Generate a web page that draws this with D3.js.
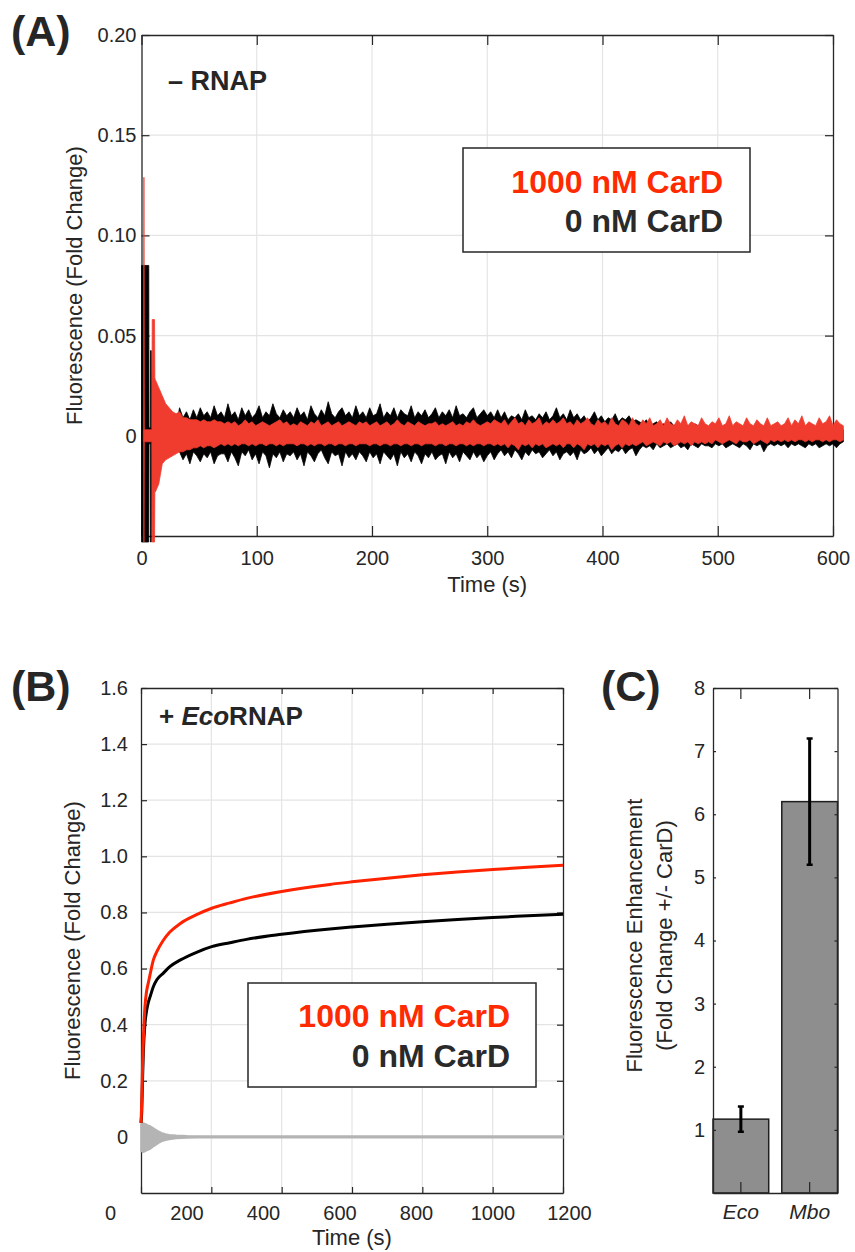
<!DOCTYPE html>
<html>
<head>
<meta charset="utf-8">
<script src="https://cdn.jsdelivr.net/npm/d3@7"></script>
<style>
  body { margin: 0; background: #fff; }
  text { font-family: "Liberation Sans", Arial, Helvetica, sans-serif; }
</style>
</head>
<body>
<svg id="fig" width="855" height="1252"></svg>
<script>
// ---------- panel A (- RNAP): noisy traces as envelopes, in units of 0.001 fold change
var tA = [
  12,15,18,21,24,27,30,33,36,39,42,45,48,51,54,57,60,63,66,69,
  72,75,78,81,84,87,90,93,96,99,102,105,108,111,114,117,120,123,126,129,
  132,135,138,141,144,147,150,153,156,159,162,165,168,171,174,177,180,183,186,189,
  192,195,198,201,204,207,210,213,216,219,222,225,228,231,234,237,240,243,246,249,
  252,255,258,261,264,267,270,273,276,279,282,285,288,291,294,297,300,303,306,309,
  312,315,318,321,324,327,330,333,336,339,342,345,348,351,354,357,360,363,366,369,
  372,375,378,381,384,387,390,393,396,399,402,405,408,411,414,417,420,423,426,429,
  432,435,438,441,444,447,450,453,456,459,462,465,468,471,474,477,480,483,486,489,
  492,495,498,501,504,507,510,513,516,519,522,525,528,531,534,537,540,543,546,549,
  552,555,558,561,564,567,570,573,576,579,582,585,588,591,594,597,600,603,606,609
];
var redUpA = [
  28,24,20,16,14,12,11,12,9,9,8,8,8,7,8,7,7,8,7,7,
  6,7,6,7,5,6,8,6,7,5,6,7,6,5,6,7,8,6,7,5,
  6,5,7,6,5,7,6,8,5,6,7,5,6,7,5,6,7,6,5,7,
  6,7,5,6,7,5,6,7,5,6,8,6,5,7,6,5,7,6,5,6,
  6,7,5,6,5,6,7,5,6,5,7,6,8,6,5,6,7,6,8,7,
  6,8,5,7,9,6,7,5,8,6,7,9,5,7,6,8,6,7,9,6,
  7,5,8,6,7,9,6,5,8,6,7,5,9,6,5,8,7,5,9,6,
  5,8,6,9,5,6,8,5,9,6,5,8,6,10,5,7,6,5,9,6,
  5,7,6,9,5,6,10,5,7,6,5,9,6,5,8,6,5,9,5,6,
  7,5,6,9,5,8,6,10,5,7,6,5,9,6,7,10,5,8,6,5
];
var redLoA = [
  -28,-24,-14,-12,-11,-10,-9,-8,-8,-7,-7,-6,-6,-5,-6,-5,-5,-6,-5,-4,
  -5,-4,-5,-4,-5,-4,-4,-5,-4,-5,-4,-4,-5,-4,-4,-5,-4,-5,-4,-4,
  -4,-5,-4,-4,-5,-4,-5,-4,-4,-5,-4,-4,-5,-4,-4,-5,-4,-4,-5,-4,
  -4,-4,-5,-4,-4,-5,-4,-4,-5,-4,-4,-5,-4,-4,-5,-4,-4,-5,-4,-4,
  -4,-5,-4,-4,-5,-4,-4,-5,-4,-4,-5,-4,-5,-4,-4,-5,-4,-4,-5,-4,
  -5,-4,-6,-4,-5,-7,-4,-5,-4,-6,-4,-5,-4,-6,-5,-4,-5,-4,-6,-4,
  -4,-6,-4,-5,-7,-4,-5,-4,-6,-4,-5,-4,-7,-5,-4,-6,-4,-5,-4,-5,
  -4,-3,-5,-4,-3,-4,-5,-3,-4,-3,-5,-4,-3,-4,-3,-5,-3,-4,-3,-4,
  -3,-4,-2,-3,-4,-3,-2,-3,-4,-2,-3,-3,-2,-4,-3,-2,-3,-4,-2,-3,
  -2,-3,-2,-3,-2,-3,-2,-2,-3,-2,-3,-2,-2,-3,-2,-3,-2,-2,-3,-2
];
var blackUpA = [
  4,4,4,4,4,4,4,14,9,12,8,13,9,14,10,12,9,15,10,12,
  9,16,10,12,8,14,10,13,9,11,15,9,12,10,16,11,9,13,10,12,
  9,14,10,12,8,15,11,9,13,10,17,11,9,12,14,10,12,9,15,10,
  12,9,14,10,11,16,9,12,10,14,9,13,11,10,15,9,12,10,13,9,
  11,14,9,12,10,13,9,15,10,11,9,12,14,9,11,13,10,12,9,13,
  9,12,8,10,9,11,8,13,9,10,8,11,9,12,8,10,14,9,11,8,
  13,9,11,8,10,7,9,12,8,10,7,9,8,11,7,9,8,10,7,8,
  7,6,8,5,6,7,5,6,5,7,5,6,5,6,5,4,6,5,4,5,
  3,2,4,3,2,3,2,4,2,3,2,3,2,4,2,2,3,2,2,3,
  2,3,2,3,2,2,3,2,3,2,2,3,2,2,3,2,3,2,2,3
];
var blackLoA = [
  -4,-4,-4,-4,-4,-4,-4,-8,-12,-9,-14,-8,-10,-13,-9,-11,-8,-14,-10,-9,
  -9,-13,-8,-11,-15,-8,-10,-7,-12,-9,-14,-8,-10,-16,-9,-11,-8,-13,-9,-10,
  -8,-12,-9,-15,-8,-10,-13,-9,-7,-11,-14,-8,-10,-9,-15,-8,-11,-9,-12,-8,
  -10,-13,-8,-11,-9,-14,-8,-10,-12,-9,-15,-8,-11,-9,-13,-8,-10,-14,-9,-11,
  -8,-12,-10,-9,-14,-8,-11,-9,-13,-8,-10,-12,-8,-11,-9,-13,-10,-8,-12,-9,
  -7,-10,-8,-11,-7,-9,-12,-8,-10,-7,-9,-8,-11,-9,-7,-10,-8,-12,-9,-8,
  -10,-8,-12,-7,-9,-8,-6,-9,-7,-10,-8,-6,-9,-7,-8,-6,-9,-7,-6,-10,
  -7,-5,-6,-5,-7,-4,-6,-5,-4,-6,-5,-4,-6,-5,-7,-4,-5,-6,-4,-5,
  -5,-6,-4,-5,-4,-6,-5,-4,-5,-6,-4,-5,-7,-4,-5,-4,-8,-5,-4,-5,
  -4,-5,-4,-6,-4,-5,-4,-5,-6,-4,-5,-4,-6,-5,-4,-5,-4,-6,-4,-3
];
// first seconds of panel A (fold change)
var blackEarlyT  = [0, 6.3, 6.5, 7.7, 7.8, 8.5, 8.7];
var blackEarlyUp = [0.085, 0.085, 0.004, 0.004, 0.0425, 0.0425, 0.004];
var blackEarlyLo = [-0.053, -0.053, -0.004, -0.004, -0.053, -0.053, -0.004];
var redEarlyT  = [1.6, 1.9, 2.1, 2.4, 9.0, 9.3, 11.3, 11.6];
var redEarlyUp = [0.003, 0.003, 0.129, 0.003, 0.003, 0.058, 0.058, 0.029];
var redEarlyLo = [-0.003, -0.003, -0.053, -0.003, -0.003, -0.053, -0.053, -0.027];

var xTicksA = [0, 100, 200, 300, 400, 500, 600];
var yTicksA = [0, 0.05, 0.10, 0.15, 0.20];
var yTickLabelsA = ["0", "0.05", "0.10", "0.15", "0.20"];

// ---------- panel B (+ EcoRNAP)
var tB     = [0, 2, 4.7, 6.6, 11, 16, 21, 26, 35, 45, 63, 82, 111, 158, 201, 253, 300, 400, 537, 600, 700, 800, 900, 1000, 1100, 1200];
var redB   = [0.05, 0.12, 0.27, 0.34, 0.46, 0.52, 0.55, 0.58, 0.63, 0.66, 0.70, 0.73, 0.76, 0.792, 0.815, 0.834, 0.85, 0.875, 0.90, 0.909, 0.922, 0.934, 0.944, 0.953, 0.961, 0.968];
var blackB = [0.05, 0.085, 0.22, 0.30, 0.40, 0.45, 0.48, 0.50, 0.535, 0.56, 0.583, 0.607, 0.63, 0.658, 0.678, 0.692, 0.704, 0.722, 0.741, 0.748, 0.758, 0.767, 0.775, 0.782, 0.788, 0.794];
var grayT  = [0, 5, 10, 15, 20, 25, 30, 35, 40, 45, 50, 60, 70, 80, 100, 130, 160, 1200];
var grayUp = [0.045, 0.05, 0.048, 0.045, 0.042, 0.04, 0.036, 0.032, 0.028, 0.024, 0.02, 0.014, 0.01, 0.008, 0.006, 0.004, 0.003, 0.003];
var grayLo = [-0.05, -0.055, -0.053, -0.05, -0.047, -0.044, -0.04, -0.035, -0.031, -0.027, -0.022, -0.016, -0.012, -0.009, -0.006, -0.004, -0.003, -0.003];

var xTicksB = [0, 200, 400, 600, 800, 1000, 1200];
var yTicksB = [0, 0.2, 0.4, 0.6, 0.8, 1.0, 1.2, 1.4, 1.6];
var yTickLabelsB = ["0", "0.2", "0.4", "0.6", "0.8", "1.0", "1.2", "1.4", "1.6"];

// ---------- panel C
var species = ["Eco", "Mbo"];
var enhancement = [1.17, 6.2];
var enhancementErr = [0.2, 1.0];
var yTicksC = [1, 2, 3, 4, 5, 6, 7, 8];

var legendLabels = ["1000 nM CarD", "0 nM CarD"];

var RED_A = "#f03c2f", RED = "#ff2200", AX = "#262626", GRID = "#e4e4e4";
var milli = 0.001;

var svg = d3.select("#fig");

function styleAxis(g, size) {
  g.attr("color", AX);
  g.selectAll("text").attr("font-family", "'Liberation Sans', Arial, sans-serif")
    .attr("font-size", size).attr("fill", AX);
  g.selectAll("line").attr("stroke-width", 1.2);
  g.select(".domain").attr("stroke-width", 1.3);
}

// box, inward ticks on four sides, grid
function drawAxes(x, y, o) {
  var g = svg.append("g");
  var x0 = x.range()[0], x1 = x.range()[1], yb = y.range()[0], yt = y.range()[1];
  if (o.grid) {
    g.append("g").selectAll("line").data(o.xGrid).join("line")
      .attr("x1", d => x(d)).attr("x2", d => x(d)).attr("y1", yt).attr("y2", yb)
      .attr("stroke", GRID).attr("stroke-width", 1.2);
    g.append("g").selectAll("line").data(o.yGrid).join("line")
      .attr("y1", d => y(d)).attr("y2", d => y(d)).attr("x1", x0).attr("x2", x1)
      .attr("stroke", GRID).attr("stroke-width", 1.2);
  }
  var bottom = g.append("g").attr("transform", "translate(0," + yb + ")")
    .call(d3.axisBottom(x).tickValues(o.xTicks).tickSizeInner(-o.xLen).tickSizeOuter(0)
      .tickPadding(o.xPad).tickFormat(o.xFormat));
  styleAxis(bottom, 20);
  var top = g.append("g").attr("transform", "translate(0," + yt + ")")
    .call(d3.axisTop(x).tickValues(o.xTicks).tickSizeInner(-o.xLen).tickSizeOuter(0).tickFormat(""));
  styleAxis(top, 20);
  var left = g.append("g").attr("transform", "translate(" + x0 + ",0)")
    .call(d3.axisLeft(y).tickValues(o.yTicks).tickSizeInner(-o.yLen).tickSizeOuter(0)
      .tickPadding(o.yPad).tickFormat(o.yFormat));
  styleAxis(left, 20);
  var right = g.append("g").attr("transform", "translate(" + x1 + ",0)")
    .call(d3.axisRight(y).tickValues(o.yTicks).tickSizeInner(-o.yLen).tickSizeOuter(0).tickFormat(""));
  styleAxis(right, 20);
  return g;
}

function yLabel(lines, cx, cy) {
  var t = svg.append("text").attr("transform", "translate(" + cx + "," + cy + ") rotate(-90)")
    .attr("text-anchor", "middle").attr("font-size", 22).attr("fill", AX);
  lines.forEach(function (s, i) {
    t.append("tspan").attr("x", 0).attr("dy", i === 0 ? 0 : 30).text(s);
  });
}

function legend(x0, y0, w, h, right, base1, base2) {
  svg.append("rect").attr("x", x0).attr("y", y0).attr("width", w).attr("height", h)
    .attr("fill", "#fff").attr("stroke", AX).attr("stroke-width", 1.5);
  svg.append("text").attr("x", right).attr("y", base1).attr("text-anchor", "end")
    .attr("font-size", 32).attr("font-weight", "bold").attr("fill", "#ff2a00").text(legendLabels[0]);
  svg.append("text").attr("x", right).attr("y", base2).attr("text-anchor", "end")
    .attr("font-size", 32).attr("font-weight", "bold").attr("fill", "#2a2a2a").text(legendLabels[1]);
}

// ================= Panel A =================
var xA = d3.scaleLinear().domain([0, 600]).range([141.5, 833]);
var yA = d3.scaleLinear().domain([-0.05, 0.2]).range([536, 35]);

drawAxes(xA, yA, {
  grid: true, xGrid: [100, 200, 300, 400, 500], yGrid: [0, 0.05, 0.10, 0.15],
  xTicks: xTicksA, yTicks: yTicksA, xLen: 10, yLen: 8, xPad: 15, yPad: 5,
  xFormat: d3.format("d"), yFormat: function (d, i) { return yTickLabelsA[i]; }
});

var blackA = blackEarlyT.map(function (t, i) { return { t: t, up: blackEarlyUp[i], lo: blackEarlyLo[i] }; })
  .concat(tA.map(function (t, i) { return { t: t, up: blackUpA[i] * milli, lo: blackLoA[i] * milli }; }));
var redA = redEarlyT.map(function (t, i) { return { t: t, up: redEarlyUp[i], lo: redEarlyLo[i] }; })
  .concat(tA.map(function (t, i) { return { t: t, up: redUpA[i] * milli, lo: redLoA[i] * milli }; }));

var bandA = d3.area().x(d => xA(d.t)).y0(d => yA(d.lo)).y1(d => yA(d.up));
svg.append("path").datum(blackA).attr("d", bandA)
  .attr("fill", "#000").attr("stroke", "#000").attr("stroke-width", 0.8);
svg.append("path").datum(redA).attr("d", bandA)
  .attr("fill", RED_A).attr("stroke", RED_A).attr("stroke-width", 0.8);

yLabel(["Fluorescence (Fold Change)"], 82, (yA.range()[0] + yA.range()[1]) / 2);
svg.append("text").attr("x", (xA.range()[0] + xA.range()[1]) / 2).attr("y", 592)
  .attr("text-anchor", "middle").attr("font-size", 22).attr("fill", AX).text("Time (s)");
svg.append("text").attr("x", 168).attr("y", 90).attr("font-size", 27).attr("font-weight", "bold")
  .attr("fill", AX).text("\u2013 RNAP");
legend(463, 148, 287, 104, 723, 193, 232);
svg.append("text").attr("x", 11).attr("y", 46).attr("font-size", 43).attr("font-weight", "bold")
  .attr("fill", AX).text("(A)");

// ================= Panel B =================
var xB = d3.scaleLinear().domain([0, 1200]).range([141, 563]);
var yB = d3.scaleLinear().domain([-0.2, 1.6]).range([1193, 688]);
// tick labels in the figure sit on their own (wider) spacing
var xLabB = d3.scaleLinear().domain([0, 1200]).range([110, 569]);

drawAxes(xB, yB, {
  grid: true, xGrid: [200, 400, 600, 800, 1000], yGrid: [0, 0.2, 0.4, 0.6, 0.8, 1.0, 1.2, 1.4],
  xTicks: xTicksB, yTicks: yTicksB, xLen: 6, yLen: 6, xPad: 13, yPad: 13,
  xFormat: function () { return ""; }, yFormat: function (d, i) { return yTickLabelsB[i]; }
});
var labB = svg.append("g").attr("transform", "translate(0," + yB.range()[0] + ")")
  .call(d3.axisBottom(xLabB).tickValues(xTicksB).tickSize(0).tickPadding(13).tickFormat(d3.format("d")));
labB.select(".domain").remove();
styleAxis(labB, 20);

var grayData = grayT.map(function (t, i) { return { t: t, up: grayUp[i], lo: grayLo[i] }; });
svg.append("path").datum(grayData)
  .attr("d", d3.area().x(d => xB(d.t)).y0(d => yB(d.lo)).y1(d => yB(d.up)))
  .attr("fill", "#b4b4b4").attr("stroke", "#b4b4b4").attr("stroke-width", 1.5);

var lineB = d3.line().x(d => xB(d[0])).y(d => yB(d[1])).curve(d3.curveMonotoneX);
svg.append("path").datum(tB.map((t, i) => [t, blackB[i]])).attr("d", lineB)
  .attr("fill", "none").attr("stroke", "#000").attr("stroke-width", 3);
svg.append("path").datum(tB.map((t, i) => [t, redB[i]])).attr("d", lineB)
  .attr("fill", "none").attr("stroke", RED).attr("stroke-width", 3);

yLabel(["Fluorescence (Fold Change)"], 80, (yB.range()[0] + yB.range()[1]) / 2);
svg.append("text").attr("x", (xB.range()[0] + xB.range()[1]) / 2).attr("y", 1245)
  .attr("text-anchor", "middle").attr("font-size", 22).attr("fill", AX).text("Time (s)");
var lblB = svg.append("text").attr("x", 159).attr("y", 725).attr("font-size", 26)
  .attr("font-weight", "bold").attr("fill", AX);
lblB.append("tspan").text("+ ");
lblB.append("tspan").attr("font-style", "italic").text("Eco");
lblB.append("tspan").text("RNAP");
legend(248, 983, 288, 104, 510, 1027, 1067);
svg.append("text").attr("x", 11).attr("y", 701).attr("font-size", 43).attr("font-weight", "bold")
  .attr("fill", AX).text("(B)");

// ================= Panel C =================
var xC = d3.scaleBand().domain(species).range([713, 837.5]).paddingInner(0.19).paddingOuter(0);
var yC = d3.scaleLinear().domain([0, 8]).range([1193, 688]);

svg.selectAll("rect.bar").data(species).join("rect").attr("class", "bar")
  .attr("x", d => xC(d)).attr("width", xC.bandwidth())
  .attr("y", (d, i) => yC(enhancement[i])).attr("height", (d, i) => yC(0) - yC(enhancement[i]))
  .attr("fill", "#8e8e8e").attr("stroke", "#1e1e1e").attr("stroke-width", 1.5);

var gC = svg.append("g");
var xC0 = xC.range()[0], xC1 = xC.range()[1];
var bC = gC.append("g").attr("transform", "translate(0," + yC(0) + ")")
  .call(d3.axisBottom(xC).tickSizeInner(-11).tickSizeOuter(0).tickPadding(11));
styleAxis(bC, 21);
bC.selectAll("text").attr("font-style", "italic");
var tC = gC.append("g").attr("transform", "translate(0," + yC(8) + ")")
  .call(d3.axisTop(xC).tickSizeInner(-11).tickSizeOuter(0).tickFormat(""));
styleAxis(tC, 20);
var lC = gC.append("g").attr("transform", "translate(" + xC0 + ",0)")
  .call(d3.axisLeft(yC).tickValues(yTicksC).tickSizeInner(-3).tickSizeOuter(0).tickPadding(8).tickFormat(d3.format("d")));
styleAxis(lC, 20);
var rC = gC.append("g").attr("transform", "translate(" + xC1 + ",0)")
  .call(d3.axisRight(yC).tickValues(yTicksC).tickSizeInner(-3).tickSizeOuter(0).tickFormat(""));
styleAxis(rC, 20);

// error bars
species.forEach(function (s, i) {
  var cx = xC(s) + xC.bandwidth() / 2;
  var hi = yC(enhancement[i] + enhancementErr[i]), lo = yC(enhancement[i] - enhancementErr[i]);
  svg.append("line").attr("x1", cx).attr("x2", cx).attr("y1", hi).attr("y2", lo)
    .attr("stroke", "#000").attr("stroke-width", 3);
  [hi, lo].forEach(function (yy) {
    svg.append("line").attr("x1", cx - 3).attr("x2", cx + 3).attr("y1", yy).attr("y2", yy)
      .attr("stroke", "#000").attr("stroke-width", 2.5);
  });
});

yLabel(["Fluorescence Enhancement", "(Fold Change +/- CarD)"], 642, (yC.range()[0] + yC.range()[1]) / 2 - 5);
svg.append("text").attr("x", 601).attr("y", 701).attr("font-size", 43).attr("font-weight", "bold")
  .attr("fill", AX).text("(C)");
</script>
</body>
</html>
